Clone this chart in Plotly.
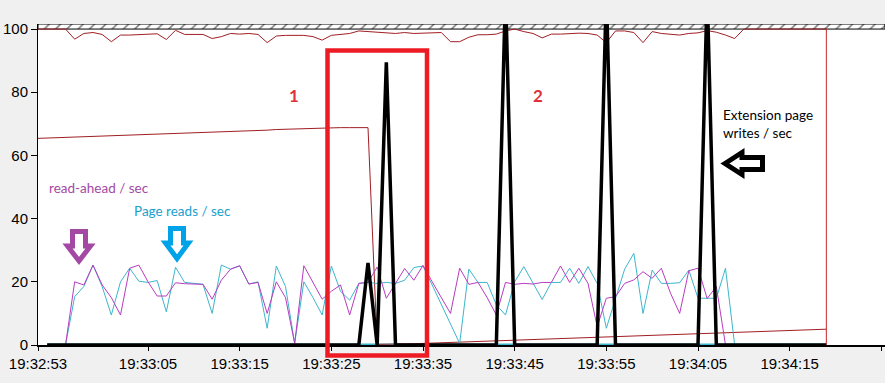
import plotly.graph_objects as go

# ---------------- data ----------------
START_TIME = "19:32:53"
SAMPLE_SECONDS = list(range(87))          # one sample per second
CURRENT_SAMPLE = 86                        # perfmon time bar position
TICK_LABELS = ["19:32:53", "19:33:05", "19:33:15", "19:33:25", "19:33:35",
               "19:33:45", "19:33:55", "19:34:05", "19:34:15"]
EDGE_TICK = "19:34:25"                     # tick at right edge, label cut off

red_top = [100, 100, 100, 100, 96.8, 98.6, 98.9, 98.3, 96.0, 98.1,
           98.1, 98.2, 98.2, 98.5, 96.7, 99.6, 98.3, 98.4, 98.3, 97.0,
           97.6, 98.6, 98.4, 98.6, 98.3, 95.7, 97.8, 98.0, 98.0, 98.0,
           97.6, 96.5, 98.0, 98.4, 98.6, 99.4, 99.2, 98.9, 98.9, 98.6,
           98.9, 98.6, 98.7, 98.7, 98.9, 96.0, 96.0, 97.4, 98.2, 98.2,
           98.4, 99.4, 100, 99.2, 98.6, 97.2, 98.4, 98.4, 98.6, 98.7,
           98.6, 98.1, 95.7, 99.4, 99.4, 98.9, 95.7, 99.2, 98.6, 98.4,
           98.1, 98.6, 98.8, 99.5, 99.0, 98.1, 97.0, 100, 100, 100,
           100, 100, 100, 100, 100, 100, 100]

red_low = [65.4, 65.5, 65.6, 65.7, 65.8, 65.9, 66.0, 66.1, 66.2, 66.3,
           66.4, 66.5, 66.6, 66.7, 66.8, 66.9, 67.0, 67.1, 67.2, 67.4,
           67.5, 67.6, 67.7, 67.8, 67.9, 68.0, 68.2, 68.3, 68.5, 68.6,
           68.7, 68.7, 68.8, 68.8, 68.8, 68.8, 68.8, 0.2, 0.2, 0.3,
           0.3, 0.4, 0.5, 0.6, 0.7, 0.8, 0.9, 1.0, 1.1, 1.2,
           1.3, 1.4, 1.5, 1.6, 1.7, 1.8, 1.9, 1.9, 2.0, 2.1,
           2.2, 2.3, 2.4, 2.5, 2.6, 2.7, 2.8, 2.9, 3.0, 3.1,
           3.2, 3.3, 3.4, 3.5, 3.6, 3.7, 3.8, 3.9, 4.0, 4.1,
           4.2, 4.3, 4.4, 4.6, 4.7, 4.8, 5.0]

read_ahead = [None, 0, 0, 0, 20, 19, 25.3, 19, 15, 9.5,
              24.3, 25.3, 20, 15.5, 15.5, 19.7, 19.4, 19.3, 19.2, 14.5,
              20.5, 24, 25.1, 19.3, 19.8, 10, 20, 15, 0.5, 25.1,
              20, 14.5, 17, 19, 9.5, 19.5, 19.8, 24.7, 14.8, 19.5,
              24.2, 20.5, 25.2, 20, 15, 10, 24.3, 19.2, 19.8, 15,
              9.5, 19.8, 19.2, 19.5, 19.3, 19.8, 19.8, 25, 19.8, 24.3,
              19.5, 5.8, 14.8, 15.3, 19.5, 20.6, 23.2, 21.1, 24.3, 16.4,
              10, 23.5, 24.3, 14.7, 18.5, 0, 0, 0, 0, 0,
              0, 0, 0, 0, 0, 0, 0]

page_reads = [None, 0, 0, 0, 15.3, 18.5, 25.3, 18.5, 9.5, 20,
              24.3, 20.2, 19.8, 20.4, 10.5, 24.6, 19.8, 19.5, 19.2, 10,
              25.3, 24, 25, 19.3, 20, 5.3, 25, 18.5, 0.5, 20,
              15, 9.5, 25, 17, 14.2, 19.5, 19.8, 19.5, 19.8, 19.5,
              20.5, 24.5, 25, 19, 13, 6.5, 0.5, 24, 19.8, 19.8,
              12.7, 9.5, 20, 24.8, 19.8, 14.4, 19.8, 19.8, 24.3, 19.5,
              24.8, 19.5, 5.3, 14.8, 24, 29, 10, 23.7, 19.5, 19.5,
              19.7, 23.7, 14.8, 14.8, 14.8, 24.3, 0, 0, 0, 0,
              0, 0, 0, 0, 0, 0, 0]

ext_page_writes = [None, 0, 0, 0, 0, 0, 0, 0, 0, 0,
                   0, 0, 0, 0, 0, 0, 0, 0, 0, 0,
                   0, 0, 0, 0, 0, 0, 0, 0, 0, 0,
                   0, 0, 0, 0, 0, 0, 26, 0, 89.5, 0,
                   0, 0, 0, 0, 0, 0, 0, 0, 0, 0,
                   0, 112, 0, 0, 0, 0, 0, 0, 0, 0,
                   0, 0, 112, 0, 0, 0, 0, 0, 0, 0,
                   0, 0, 0, 112, 0, 0, 0, 0, 0, 0,
                   0, 0, 0, 0, 0, 0, 0]

other_zero_counter = [None] + [0] * 86

# ---------------- styling ----------------
X_MAX = 92.4
Y_MAX = 101.6
W, H = 885, 383
ML, MR, MT, MB = 38, 0, 24, 38

RED_DARK = "#a01e23"
MAGENTA = "#b83cc0"
CYAN = "#3cb6cc"
PAINT_RED = "#ED1C24"
PAINT_PURPLE = "#A349A4"
PAINT_BLUE = "#00A2E8"


def hms(label):
    h, m, s = map(int, label.split(":"))
    return h * 3600 + m * 60 + s


t0 = hms(START_TIME)
tickvals = [hms(l) - t0 for l in TICK_LABELS] + [hms(EDGE_TICK) - t0]
ticktext = TICK_LABELS + [""]


def pp(px, py):
    """pixel -> paper coords (for overlay drawings)"""
    return (px - ML) / (W - ML - MR), (H - MB - py) / (H - MT - MB)


def path(points):
    pts = [pp(x, y) for x, y in points]
    return "M " + " L ".join(f"{x:.5f},{y:.5f}" for x, y in pts) + " Z"


fig = go.Figure()

# hatched band above 100
fig.add_trace(go.Scatter(
    x=[0, X_MAX, X_MAX, 0, 0], y=[100, 100, Y_MAX, Y_MAX, 100],
    mode="lines", fill="toself", line=dict(color="black", width=1),
    fillcolor="white",
    fillpattern=dict(shape="/", fgcolor="black", bgcolor="white", size=8, solidity=0.2),
    hoverinfo="skip", showlegend=False))

fig.add_trace(go.Scatter(x=SAMPLE_SECONDS, y=other_zero_counter, mode="lines",
                         line=dict(color=CYAN, width=3), showlegend=False))
fig.add_trace(go.Scatter(x=SAMPLE_SECONDS, y=red_top, mode="lines",
                         line=dict(color=RED_DARK, width=1), showlegend=False))
fig.add_trace(go.Scatter(x=SAMPLE_SECONDS, y=red_low, mode="lines",
                         line=dict(color=RED_DARK, width=1), showlegend=False))
fig.add_trace(go.Scatter(x=SAMPLE_SECONDS, y=page_reads, mode="lines",
                         line=dict(color=CYAN, width=1), showlegend=False))
fig.add_trace(go.Scatter(x=SAMPLE_SECONDS, y=read_ahead, mode="lines",
                         line=dict(color=MAGENTA, width=1), showlegend=False))
fig.add_trace(go.Scatter(x=SAMPLE_SECONDS, y=ext_page_writes, mode="lines",
                         line=dict(color="black", width=3.5), showlegend=False))
# time bar
fig.add_trace(go.Scatter(x=[CURRENT_SAMPLE, CURRENT_SAMPLE], y=[0, 100], mode="lines",
                         line=dict(color="#c0282d", width=1), showlegend=False))

shapes = []
# red highlight rectangle
x0, y0 = pp(327.5, 355.5)
x1, y1 = pp(427, 50.5)
shapes.append(dict(type="rect", xref="paper", yref="paper", x0=x0, y0=y0, x1=x1, y1=y1,
                   line=dict(color=PAINT_RED, width=4.5), fillcolor="rgba(0,0,0,0)"))
# purple down arrow
shapes.append(dict(type="path", xref="paper", yref="paper",
                   path=path([(72.5, 231.5), (85.5, 231.5), (85.5, 246), (90.5, 246),
                              (79, 261), (67.5, 246), (72.5, 246)]),
                   line=dict(color=PAINT_PURPLE, width=5), fillcolor="white"))
# blue down arrow
shapes.append(dict(type="path", xref="paper", yref="paper",
                   path=path([(170.5, 228.5), (183.5, 228.5), (183.5, 243), (188.5, 243),
                              (177, 258.5), (165.5, 243), (170.5, 243)]),
                   line=dict(color=PAINT_BLUE, width=5), fillcolor="white"))
# black left arrow
shapes.append(dict(type="path", xref="paper", yref="paper",
                   path=path([(725, 163.5), (742, 152.5), (742, 157.5), (762.5, 157.5),
                              (762.5, 169.5), (742, 169.5), (742, 174.5)]),
                   line=dict(color="black", width=5), fillcolor="white"))

annotations = []


def label(text, px, py, color, size, bold=False, xanchor="center", align="center"):
    x, y = pp(px, py)
    annotations.append(dict(text=f"<b>{text}</b>" if bold else text, x=x, y=y,
                            xref="paper", yref="paper", showarrow=False,
                            xanchor=xanchor, yanchor="middle", align=align,
                            font=dict(family="Lato, Open Sans, sans-serif", size=size, color=color)))


label("1", 293.5, 95, "#e0303a", 17, bold=True)
label("2", 537.5, 95, "#e0303a", 17, bold=True)
label("read-ahead / sec", 47, 188, PAINT_PURPLE, 13.5, xanchor="left")
label("Page reads / sec", 132, 211, "#1a9fd0", 13.5, xanchor="left")
label("Extension page<br>writes / sec", 721, 124, "black", 13.5, xanchor="left", align="left")

fig.update_layout(
    width=W, height=H,
    margin=dict(l=ML, r=MR, t=MT, b=MB, pad=0, autoexpand=False),
    paper_bgcolor="#f0f0f0", plot_bgcolor="white",
    shapes=shapes, annotations=annotations,
    font=dict(family="Liberation Sans, Arial, sans-serif", size=15, color="black"),
    xaxis=dict(range=[0, X_MAX], tickmode="array", tickvals=tickvals, ticktext=ticktext,
               showgrid=False, zeroline=False, showline=True, linecolor="black", linewidth=2,
               ticks="outside", ticklen=4, tickcolor="black", automargin=False,
               tickfont=dict(size=15, color="black")),
    yaxis=dict(range=[0, Y_MAX], tickmode="array", tickvals=[0, 20, 40, 60, 80, 100],
               showgrid=False, zeroline=False, showline=True, linecolor="black", linewidth=1,
               ticks="outside", ticklen=6, tickcolor="black", automargin=False,
               tickfont=dict(size=15, color="black")),
    showlegend=False,
)

fig.write_html("out.html", config={"displayModeBar": False},
               post_script="document.body.style.margin='0';document.body.style.overflow='hidden';")
